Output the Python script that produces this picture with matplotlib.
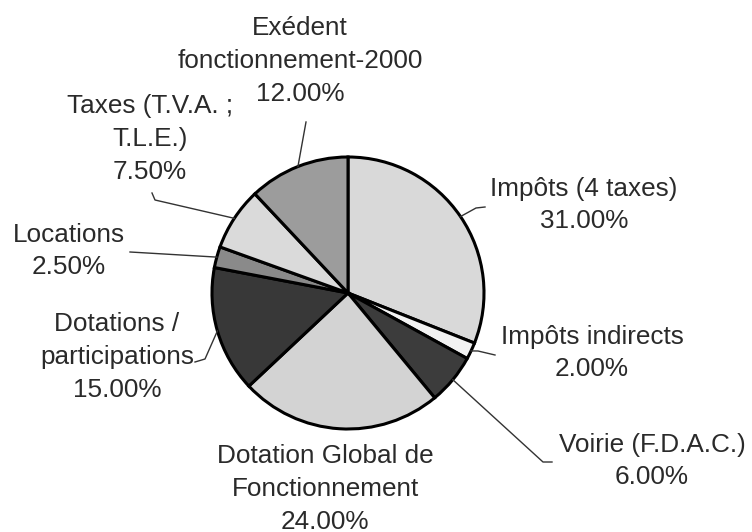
import matplotlib.pyplot as plt
import numpy as np

plt.rcParams['font.family'] = ['Liberation Sans', 'DejaVu Sans']

# Données du graphique
noms = ["Impôts (4 taxes)", "Impôts indirects", "Voirie (F.D.A.C.)",
        "Dotation Global de\nFonctionnement", "Dotations /\nparticipations",
        "Locations", "Taxes (T.V.A. ;\nT.L.E.)", "Exédent\nfonctionnement-2000"]
parts = [31.0, 2.0, 6.0, 24.0, 15.0, 2.5, 7.5, 12.0]
gris = ["#d9d9d9", "#f2f2f2", "#3c3c3c", "#d3d3d3", "#383838", "#8a8a8a", "#dadada", "#9c9c9c"]

H = 532
cx, cy, R = 348, H - 293, 136

# position des étiquettes (pixels) et points de la ligne de rappel
pos_etiq = [(584, 205), (592, 353), (652, 461), (325, 489),
            (117, 357), (69, 251), (150, 139), (300, 61)]
rappels = [[(485, 207), (476, 208)],
           [(495, 355), (478, 351)],
           [(552, 462), (543, 462)],
           None,
           [(195, 362), (205, 359)],
           [(130, 252)],
           [(152, 193), (155, 200)],
           [(306, 122)]]

fig = plt.figure(figsize=(7.52, 5.32), dpi=100)
ax = fig.add_axes([0, 0, 1, 1])

wedges, _ = ax.pie(parts, colors=gris, startangle=90, counterclock=False,
                   center=(cx, cy), radius=R,
                   wedgeprops=dict(edgecolor="black", linewidth=2.2))
ax.set_xlim(0, 752)
ax.set_ylim(0, H)
ax.set_aspect("equal")
ax.axis("off")

for w, nom, p, (lx, ly), pts in zip(wedges, noms, parts, pos_etiq, rappels):
    ax.text(lx, H - ly, f"{nom}\n{p:.2f}%", ha="center", va="center",
            multialignment="center", fontsize=18.8, color="#2a2a2a", linespacing=1.45)
    if pts is None:
        continue
    a = np.deg2rad((w.theta1 + w.theta2) / 2)
    bord = (cx + R * np.cos(a), cy + R * np.sin(a))
    xs = [x for x, y in pts] + [bord[0]]
    ys = [H - y for x, y in pts] + [bord[1]]
    ax.plot(xs, ys, color="#333333", linewidth=1.0)

plt.savefig("out.png", dpi=100)
